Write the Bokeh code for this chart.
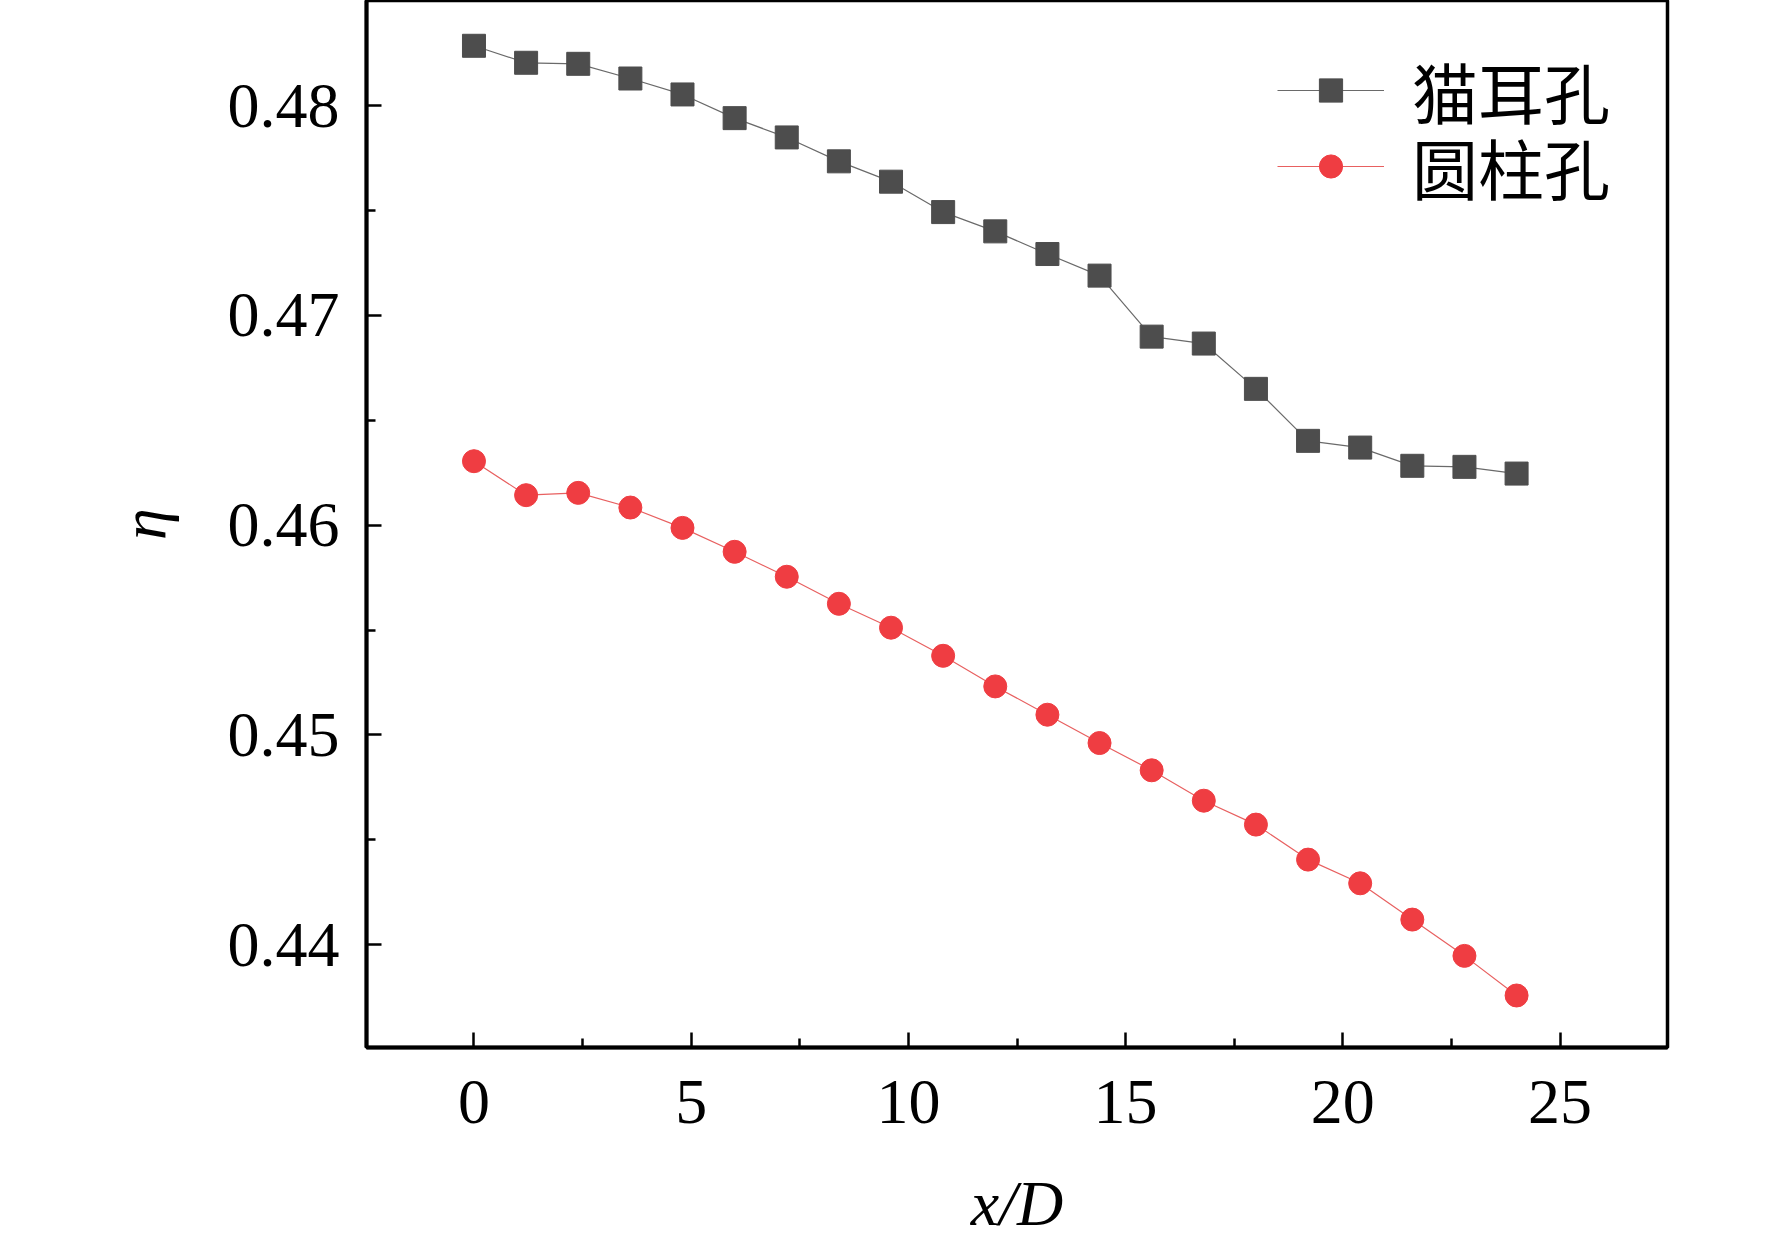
from bokeh.plotting import figure
from bokeh.models import FixedTicker, Range1d, Legend, LegendItem
from bokeh.embed import file_html
from bokeh.resources import INLINE

x_d = [0, 1.2, 2.4, 3.6, 4.8, 6.0, 7.2, 8.4, 9.6, 10.8, 12.0, 13.2, 14.4, 15.6, 16.8, 18.0, 19.2, 20.4, 21.6, 22.8, 24.0]
cat_ear = [0.48286, 0.48205, 0.48200, 0.48130, 0.48054, 0.47941, 0.47849, 0.47735, 0.47638, 0.47493, 0.47401,
           0.47293, 0.47190, 0.46899, 0.46866, 0.46650, 0.46402, 0.46370, 0.46283, 0.46278, 0.46246]
cylinder = [0.46305, 0.46143, 0.46154, 0.46084, 0.45987, 0.45873, 0.45754, 0.45625, 0.45511, 0.45377, 0.45231,
            0.45096, 0.44961, 0.44831, 0.44686, 0.44572, 0.44405, 0.44292, 0.44119, 0.43946, 0.43757]
x_ticks = [0, 5, 10, 15, 20, 25]
x_minor = [2.5, 7.5, 12.5, 17.5, 22.5]
y_ticks = [0.44, 0.45, 0.46, 0.47, 0.48]
y_minor = [0.445, 0.455, 0.465, 0.475]
labels = ["猫耳孔", "圆柱孔"]

SERIF = "Liberation Serif"
CJK = "'Liberation Serif', 'Noto Sans CJK SC'"
FH = 1047

p = figure(frame_width=1301, frame_height=FH,
           min_border_left=366, min_border_right=89, min_border_top=0, min_border_bottom=182,
           output_backend="svg", toolbar_location=None,
           x_range=Range1d(-2.474, 27.474), y_range=Range1d(0.43509, 0.48502))
p.background_fill_color = "white"
p.border_fill_color = "white"
p.grid.visible = False
p.outline_line_color = "black"
p.outline_line_width = 3.5

l1 = p.line(x_d, cat_ear, line_color="#6a6a6a", line_width=1.2)
s1 = p.scatter(x_d, cat_ear, marker="square", size=23, fill_color="#4d4d4d", line_color="#4d4d4d")
l2 = p.line(x_d, cylinder, line_color="#e86060", line_width=1.2)
s2 = p.scatter(x_d, cylinder, marker="circle", size=23, fill_color="#ef3d42", line_color="#ef3d42")

for ax in (p.xaxis[0], p.yaxis[0]):
    ax.axis_line_width = 4
    ax.axis_line_color = "black"
    ax.major_tick_in = 15
    ax.major_tick_out = 0
    ax.minor_tick_in = 9
    ax.minor_tick_out = 0
    ax.major_tick_line_width = 2.5
    ax.minor_tick_line_width = 2.5
    ax.major_label_text_font = SERIF
    ax.major_label_text_font_size = "64px"
    ax.major_label_text_color = "black"
    ax.axis_label_text_font = SERIF
    ax.axis_label_text_font_style = "italic"
    ax.axis_label_text_font_size = "64px"
    ax.axis_label_text_color = "black"

p.xaxis[0].ticker = FixedTicker(ticks=x_ticks, minor_ticks=x_minor)
p.yaxis[0].ticker = FixedTicker(ticks=y_ticks, minor_ticks=y_minor)
p.xaxis[0].major_label_overrides = {t: str(t) for t in x_ticks}
p.yaxis[0].major_label_overrides = {t: f"{t:.2f}" for t in y_ticks}
p.xaxis[0].major_label_standoff = 33
p.yaxis[0].major_label_standoff = 27
p.xaxis[0].axis_label = "x/D"
p.yaxis[0].axis_label = "η"
p.xaxis[0].axis_label_standoff = 42
p.yaxis[0].axis_label_standoff = 46

def make_legend(label, rends, y):
    lg = Legend(items=[LegendItem(label=label, renderers=rends)], location=(911, y))
    lg.border_line_color = None
    lg.background_fill_alpha = 0
    lg.glyph_width = 107
    lg.glyph_height = 58
    lg.label_standoff = 28
    lg.label_text_font = CJK
    lg.label_text_font_size = "66px"
    lg.label_text_color = "black"
    lg.label_height = 58
    lg.spacing = 0
    lg.padding = 0
    lg.margin = 0
    return lg

p.add_layout(make_legend(labels[0], [l1, s1], FH - 138))
p.add_layout(make_legend(labels[1], [l2, s2], FH - 214))

open("out.html", "w").write(file_html(p, INLINE))
